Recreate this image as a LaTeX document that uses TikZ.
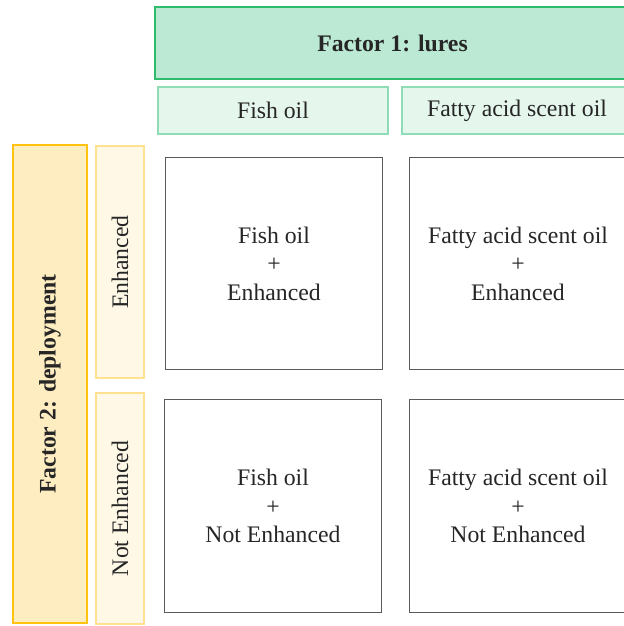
\documentclass[tikz,border=0pt]{standalone}
\usepackage{fontspec}
\setmainfont{Liberation Serif}
\usepackage{tikz}

\definecolor{luregreen}{HTML}{2EBB6C}
\definecolor{lurefill}{HTML}{BCE9D3}
\definecolor{lurelight}{HTML}{E5F6ED}
\definecolor{lureedge}{HTML}{8FDDB6}
\definecolor{deporange}{HTML}{FFC20E}
\definecolor{depfill}{HTML}{FFEDC2}
\definecolor{deplight}{HTML}{FFF8E6}
\definecolor{depedge}{HTML}{FFE18F}
\definecolor{celledge}{HTML}{5A5A5A}
\definecolor{textgray}{HTML}{262626}

\begin{document}
\begin{tikzpicture}[
        font = \fontsize{13.5}{16.2}\selectfont,
        text = textgray
    ]
    \tikzstyle{factor one}=[
        draw = luregreen,
        line width = 1.2pt,
        fill = lurefill,
        font = \fontsize{13.5}{16.2}\selectfont\bfseries,
        minimum width = 9.5cm,
        minimum height = 1.44cm
    ]

    \tikzstyle{lure level}=[
        draw = lureedge,
        line width = 0.7pt,
        fill = lurelight,
        minimum width = 4.6cm,
        minimum height = 0.94cm
    ]

    \tikzstyle{factor two}=[
        draw = deporange,
        line width = 1.2pt,
        fill = depfill,
        font = \fontsize{13.5}{16.2}\selectfont\bfseries,
        rotate = 90,
        minimum width = 9.56cm,
        minimum height = 1.48cm
    ]

    \tikzstyle{deploy level}=[
        draw = depedge,
        line width = 0.7pt,
        fill = deplight,
        rotate = 90,
        minimum height = 0.96cm
    ]

    \tikzstyle{cell}=[
        draw = celledge,
        line width = 0.6pt,
        fill = white,
        align = center,
        minimum width = 4.34cm,
        minimum height = 4.25cm
    ]

    \clip (0, 0) rectangle (12.48, -12.52);
    \useasboundingbox (0, 0) rectangle (12.48, -12.52);

    % lures
    \node[factor one] (lures) at (7.85, -0.86)  {Factor 1: lures};
    \node[lure level] (fish)  at (5.46, -2.21)  {Fish oil};
    \node[lure level] (fatty) at (10.34, -2.21) {Fatty acid scent oil};

    % deployment
    \node[factor two] (deploy) at (1.0, -7.68) {Factor 2: deployment};
    \node[deploy level, minimum width = 4.64cm] (enh)    at (2.4, -5.24)  {Enhanced};
    \node[deploy level, minimum width = 4.62cm] (notenh) at (2.4, -10.17) {Not Enhanced};

    % combinations
    \node[cell] (fishenh)     at (5.48, -5.27)   {Fish oil\\+\\Enhanced};
    \node[cell] (fattyenh)    at (10.36, -5.27)  {Fatty acid scent oil\\+\\Enhanced};
    \node[cell] (fishnotenh)  at (5.46, -10.12)  {Fish oil\\+\\Not Enhanced};
    \node[cell] (fattynotenh) at (10.36, -10.12) {Fatty acid scent oil\\+\\Not Enhanced};

\end{tikzpicture}
\end{document}
